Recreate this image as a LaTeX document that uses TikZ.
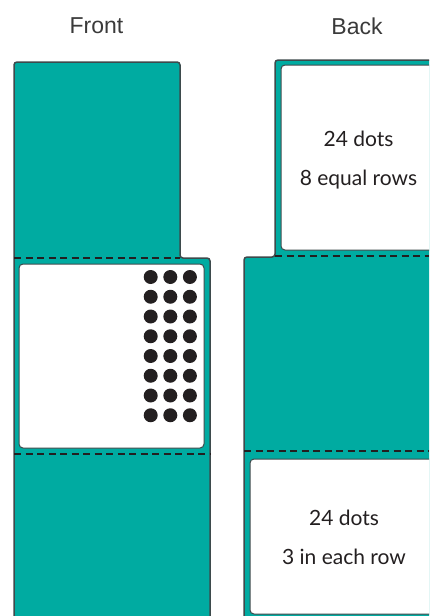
\documentclass[tikz,border=0pt]{standalone}
\usepackage{fontspec}
\setmainfont{Liberation Sans}
\newfontfamily\cardfont{Lato}
\usepackage{tikz}

\begin{document}
\begin{tikzpicture}[x=1pt, y=-1pt, font=\fontsize{23}{26}\selectfont]
  \definecolor{foldteal}{HTML}{00ABA1}
  \definecolor{edgegray}{HTML}{3D4A4C}
  \definecolor{dotblack}{HTML}{231F20}
  \definecolor{titlegray}{HTML}{3A3A3A}
  \tikzset{
    panel/.style={fill=foldteal, draw=edgegray, line width=1.5pt, rounded corners=3pt},
    window/.style={fill=white, draw=edgegray, line width=1pt, rounded corners=4pt},
    foldline/.style={draw=dotblack, line width=1.2pt, dash pattern=on 7pt off 4.5pt},
    cardtext/.style={anchor=base, text=dotblack, font=\cardfont\fontsize{21}{24}\selectfont},
    titletext/.style={anchor=base, text=titlegray}
  }

  \useasboundingbox (0,0) rectangle (429,616);
  \clip (0,0) rectangle (429,616);

  % front
  \draw[panel] (14,640) -- (14,62) -- (180,62) -- (180,258) -- (210,258) -- (210,640) -- cycle;
  \draw[window] (19,264) rectangle (204,448);
  \draw[foldline] (14,258) -- (180,258);
  \draw[foldline] (14,454) -- (210,454);
  \foreach \row in {0,...,7}
    \foreach \col in {0,1,2}
      \fill[dotblack] (150.7+19.6*\col,277+19.75*\row) circle (7);

  % back
  \draw[panel] (244,640) -- (244,257) -- (275,257) -- (275,60) -- (460,60) -- (460,640) -- cycle;
  \draw[window] (281,65) rectangle (460,250);
  \draw[window] (250,459) rectangle (460,614);
  \draw[foldline] (275,256) -- (429,256);
  \draw[foldline] (244,451) -- (429,451);

  \node[titletext] (fronttitle) at (96.4,33.5) {Front};
  \node[titletext] (backtitle) at (357,34) {Back};

  \node[cardtext] (topcount) at (358.5,146) {24 dots};
  \node[cardtext] (toprule) at (358.5,185) {8 equal rows};
  \node[cardtext] (bottomcount) at (344,525) {24 dots};
  \node[cardtext] (bottomrule) at (344,564.3) {3 in each row};
\end{tikzpicture}
\end{document}
